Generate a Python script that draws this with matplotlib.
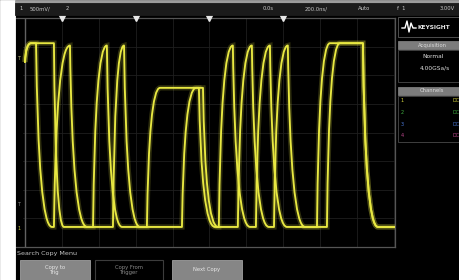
import matplotlib
matplotlib.use("Agg")
import matplotlib.pyplot as plt
from matplotlib.path import Path
from matplotlib.patches import PathPatch, Rectangle
from matplotlib.lines import Line2D

W, H = 460, 280

# scope settings shown in the status bar
CH1_SCALE = "500mV/"
TIME_SCALE = "200.0ns/"
T_DIV = 200   # ns / div
V_DIV = 0.5   # V / div

# two overlaid acquisitions: knot times (ns) and levels (V)
trace_a_t = [-1000, -967, -843, -789, -631, -556, -474, -339, -268, -57, 30,
             154, 230, 322, 350, 425, 518, 583, 653, 832, 913, 1005]
trace_a_v = [1.23, 1.56, 1.56, -1.65, -1.65, 1.52, -1.65, -1.65, 0.78, 0.78, -1.65,
             -1.65, 1.52, -1.65, -1.65, 1.52, -1.65, -1.65, 1.56, 1.56, -1.65, -1.65]

trace_b_t = [-1000, -967, -940, -854, -843, -756, -664, -523, -463, -377, -149,
             -73, -35, 46, 51, 127, 220, 252, 328, 420, 637, 707, 832, 913, 1005]
trace_b_v = [1.23, 1.56, 1.56, -1.65, -1.65, 1.52, -1.65, -1.65, 1.52, -1.65, -1.65,
             0.78, 0.78, -1.65, -1.65, 1.52, -1.65, -1.65, 1.52, -1.65, -1.65,
             1.56, 1.56, -1.65, -1.65]

# search marks along the top edge (ns)
search_marks = [-800, -400, 0, 400]

status_left = ["1", CH1_SCALE, "2"]
status_right = ["0.0s", TIME_SCALE, "Auto", "f  1", "3.00V"]
channel_labels = ["1", "2", "3", "4"]
channel_colors = ["#d8d840", "#3fae3f", "#4a78d8", "#c04890"]
softkeys = ["Copy to\nTrig", "Copy From\nTrigger", "Next Copy"]

YELLOW = "#e8e842"


def fx(x):
    return x / W


def fy(y):
    return 1 - y / H


def trace_path(ts, vs, k=0.15):
    # flat parts as lines, edges as rounded (RC looking) curves
    verts = [(ts[0], vs[0])]
    codes = [Path.MOVETO]
    for i in range(1, len(ts)):
        t0, v0, t1, v1 = ts[i - 1], vs[i - 1], ts[i], vs[i]
        if v1 == v0:
            verts.append((t1, v1))
            codes.append(Path.LINETO)
        else:
            verts += [(t0 + k * (t1 - t0), v1), (t1, v1)]
            codes += [Path.CURVE3, Path.CURVE3]
    return Path(verts, codes)


def box(x0, y0, x1, y1, fc, ec=None, lw=0.6):
    fig.add_artist(Rectangle((fx(x0), fy(y1)), fx(x1) - fx(x0), fy(y0) - fy(y1),
                             transform=fig.transFigure, facecolor=fc,
                             edgecolor=ec if ec else fc, lw=lw))


def label(x, y, s, color="#c8c8c8", size=3.8, ha="left", **kw):
    fig.text(fx(x), fy(y), s, color=color, fontsize=size, ha=ha, va="center", **kw)


fig = plt.figure(figsize=(W / 100, H / 100), dpi=100, facecolor="black")

# white strip on the left of the screenshot, light rim on top
box(0, 0, 15, 280, "white")
box(15, 0, 460, 3, "#9c9c9c")
box(15, 3, 460, 15, "#1b1b1b")

# waveform area
ax = fig.add_axes([fx(15), fy(247), fx(395) - fx(15), fy(18) - fy(247)])
ax.set_facecolor("black")
ax.set_xlim(-1054, 1006)
ax.set_ylim(-4 * V_DIV, 4 * V_DIV)
ax.set_xticks([])
ax.set_yticks([])
for t in range(-1000, 1001, T_DIV):
    ax.axvline(t, color="#1f1f1f", lw=0.6, zorder=1)
for i in range(1, 8):
    ax.axhline(-4 * V_DIV + i * V_DIV, xmin=0.02, color="#1f1f1f", lw=0.6, zorder=1)
ax.axvline(-1000, color="#626262", lw=1.0, zorder=2)
ax.spines["left"].set_visible(False)
for side in ["top", "bottom", "right"]:
    ax.spines[side].set_color("#555555")
    ax.spines[side].set_linewidth(0.9)

for ts, vs in [(trace_a_t, trace_a_v), (trace_b_t, trace_b_v)]:
    p = trace_path(ts, vs)
    ax.add_patch(PathPatch(p, fill=False, edgecolor=YELLOW, lw=3.8, alpha=0.2, zorder=3))
    ax.add_patch(PathPatch(p, fill=False, edgecolor=YELLOW, lw=1.35, zorder=4,
                           joinstyle="round", capstyle="round"))

ax.plot(search_marks, [1.0] * len(search_marks), transform=ax.get_xaxis_transform(),
        ls="none", marker="v", ms=3.8, color="#e8e8e8", clip_on=False, zorder=6)

# markers in the left margin
label(17, 58, "T", color="#b8b87a", size=3.6)
label(17, 205, "T", color="#8a8a8a", size=3.6)
label(17, 228, "1", color="#c8c840", size=3.6)

# status bar texts
for x, s in zip([19, 30, 66], status_left):
    label(x, 9, s)
for x, s in zip([263, 305, 358, 397, 440], status_right):
    label(x, 9, s)

# right side panel
box(398, 17, 462, 37, "black", "#5a5a5a")
fig.add_artist(Line2D([fx(402), fx(405), fx(407), fx(409), fx(411), fx(413), fx(416)],
                      [fy(28), fy(28), fy(21), fy(32), fy(23), fy(28), fy(28)],
                      transform=fig.transFigure, color="white", lw=1.0))
label(418, 27.5, "KEYSIGHT", color="#e6e6e6", size=4.2, weight="bold")
box(398, 41, 462, 49, "#7c7c7c")
label(432, 45, "Acquisition", color="#dcdcdc", size=3.8, ha="center")
box(398, 50, 462, 82, "black", "#4a4a4a")
label(433, 57, "Normal", color="#e0e0e0", size=4.2, ha="center")
label(435, 68, "4.00GSa/s", color="#e0e0e0", size=4.2, ha="center")
box(398, 87, 462, 95, "#7c7c7c")
label(432, 91, "Channels", color="#dcdcdc", size=3.8, ha="center")
box(398, 96, 462, 142, "black", "#4a4a4a")
for i, (s, c) in enumerate(zip(channel_labels, channel_colors)):
    label(401, 101 + 11.5 * i, s, color=c, size=3.6)
    label(459, 101 + 11.5 * i, "DC", color=c, size=3.4, ha="right")

# softkey menu
label(17, 253.5, "Search Copy Menu", color="#c4c4c4", size=4.6)
keys_x = [(20, 90), (95, 163), (172, 242)]
for (x0, x1), s, i in zip(keys_x, softkeys, range(3)):
    if i == 1:
        box(x0, 260, x1, 282, "black", "#3c3c3c", lw=0.8)
        col = "#8a8a8a"
    else:
        box(x0, 260, x1, 282, "#868686", "#a0a0a0", lw=0.6)
        col = "#e8e8e8"
    fig.text(fx((x0 + x1) / 2), fy(270), s, color=col, fontsize=3.8,
             ha="center", va="center", linespacing=1.1)

fig.savefig("out.png", dpi=100, facecolor=fig.get_facecolor())
